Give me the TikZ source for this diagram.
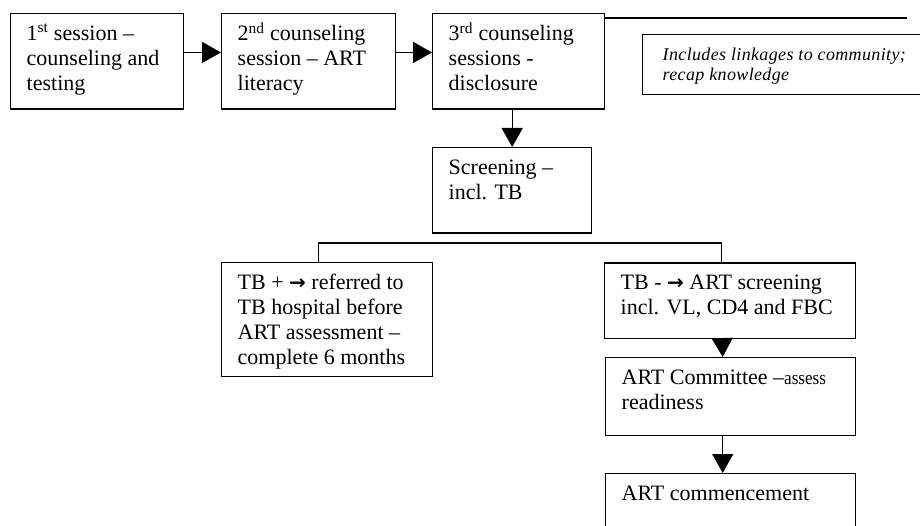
\documentclass[tikz,border=0pt]{standalone}
\usepackage{fontspec}
\setmainfont{Liberation Serif}
\newfontfamily\arrowfont{DejaVu Sans}
\usepackage{graphicx}
\usetikzlibrary{arrows.meta}
\tikzstyle{stage} = [draw, line width=1.4pt, anchor=north west, inner xsep=16pt, inner ysep=9pt,
    font=\fontsize{22}{25}\selectfont]
\tikzstyle{note} = [stage, inner xsep=20pt, inner ysep=12pt,
    font=\fontsize{18}{20}\selectfont\itshape\addfontfeature{LetterSpace=2}]
\tikzstyle{flow} = [line width=1.4pt, -{Triangle[length=19pt,width=21pt]}]
\tikzstyle{link} = [line width=1.4pt]
\newcommand{\stagetext}[3]{\parbox[t][#2][t]{#1}{\strut #3}}
\newcommand{\tbarrow}{{\arrowfont\bfseries\fontsize{20}{25}\selectfont →}}
\begin{document}
\begin{tikzpicture}[x=1pt,y=-1pt]
	\useasboundingbox (0,0) rectangle (920,526);
	\clip (0,0) rectangle (920,526);

	\node(session1) at (10,13) [stage] {\stagetext{141pt}{77.5pt}{1\textsuperscript{st} session –\\counseling and\\testing}};
	\node(session2) at (221,13) [stage] {\stagetext{142pt}{77.5pt}{2\textsuperscript{nd} counseling\\session – ART\\literacy}};
	\node(session3) at (432,13) [stage] {\stagetext{140pt}{77.5pt}{3\textsuperscript{rd} counseling\\sessions -\\disclosure}};
	\node(recap) at (642,34) [note] {\stagetext{260pt}{36pt}{Includes linkages to community;\\recap knowledge}};
	\coordinate(recapline) at (907,18);

	\node(screening) at (432,147) [stage] {\stagetext{127pt}{67.5pt}{Screening –\\incl. TB}};

	\node(tbpos) at (221,262) [stage] {\stagetext{179pt}{96pt}{TB + \tbarrow{} referred to\\TB hospital before\\ART assessment –\\complete 6 months}};
	\node(tbneg) at (604,262.5) [stage] {\stagetext{219pt}{57pt}{TB - \tbarrow{} ART screening\\incl. VL, CD4 and FBC}};

	\node(committee) at (605,357) [stage] {\stagetext{218pt}{60pt}{ART Committee –\scalebox{0.78}[0.88]{assess}\\readiness}};
	\node(start) at (605,473) [stage] {\stagetext{218pt}{82pt}{ART commencement}};

	\draw[flow] ([yshift=9pt]session1.east) -- ([yshift=9pt]session2.west);
	\draw[flow] ([yshift=9pt]session2.east) -- ([yshift=9pt]session3.west);
	\draw[link] ([yshift=-5pt]session3.north east) -- (recapline);
	\draw[flow] (session3.south -| screening.north) -- (screening.north);

	\draw[link] ([xshift=-9pt]tbpos.north) -- ++(0,-19) -| ([xshift=-9pt]tbneg.north);
	\draw[flow] ([xshift=-8pt]tbneg.south) -- ([xshift=-8pt]committee.north);
	\draw[flow] ([xshift=-8pt]committee.south) -- ([xshift=-8pt]start.north);
\end{tikzpicture}
\end{document}
